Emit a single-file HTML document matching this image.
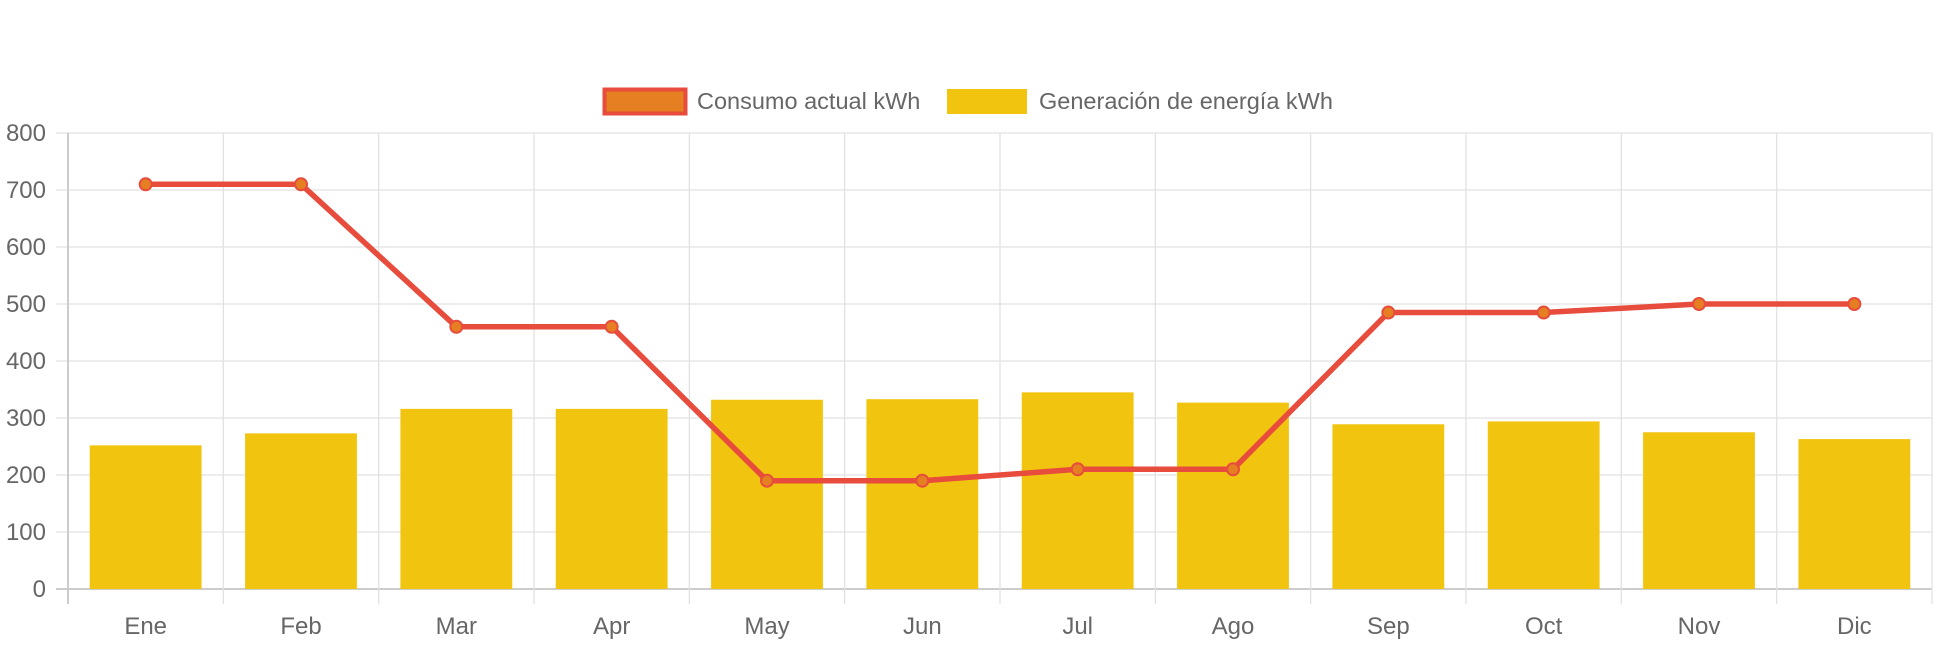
<!DOCTYPE html>
<html><head><meta charset="utf-8"><style>
html,body{margin:0;padding:0;background:#fff;}
svg{display:block;font-family:"Liberation Sans",sans-serif;}
</style></head><body>
<svg id="chart" width="1942" height="646" viewBox="0 0 1942 646" xmlns="http://www.w3.org/2000/svg">
<g id="legend">
  <g>
    <rect x="604.5" y="89.5" width="81" height="24" fill="#e67e22" stroke="#e74c3c" stroke-width="4"/>
    <text x="697" y="109" font-size="23.5" fill="#666">Consumo actual kWh</text>
  </g>
  <g>
    <rect x="947" y="89" width="80" height="25" fill="#f1c40f"/>
    <text x="1039" y="109" font-size="23.5" fill="#666">Generación de energía kWh</text>
  </g>
</g>
<g id="grid"></g>
<g id="bars"></g>
<g id="line"></g>
</svg>
<script>
const categories = ["Ene","Feb","Mar","Apr","May","Jun","Jul","Ago","Sep","Oct","Nov","Dic"];
const consumo = [710,710,460,460,190,190,210,210,485,485,500,500];
const generacion = [252,273,316,316,332,333,345,327,289,294,275,263];
const yTicks = [0,100,200,300,400,500,600,700,800];

const L=68, R=1932, T=133, B=589, YMAX=800;
const NS="http://www.w3.org/2000/svg";
const cw=(R-L)/categories.length;
const x=i=>L+cw*(i+0.5);
const y=v=>B-(v/YMAX)*(B-T);
function mk(tag,attrs,parent){const e=document.createElementNS(NS,tag);for(const k in attrs)e.setAttribute(k,attrs[k]);parent.appendChild(e);return e;}
const grid=document.getElementById('grid');
yTicks.forEach(t=>{
  const l=mk('line',{x1:L-12,x2:R,y1:y(t),y2:y(t),stroke:t===0?'#ccc':'#e2e2e2','stroke-width':t===0?2:1.3},grid);
  
  
  const tx=mk('text',{x:L-22,y:y(t)+8,'text-anchor':'end','font-size':24,fill:'#666'},grid);
  tx.textContent=t;
  
  
});
for(let i=0;i<=categories.length;i++){
  const gx=L+cw*i;
  const l=mk('line',{x1:gx,x2:gx,y1:T,y2:B+15,stroke:i===0?'#ccc':'#e2e2e2','stroke-width':i===0?2:1.3},grid);
  
  
}
categories.forEach((c,i)=>{
  const tx=mk('text',{x:x(i),y:634,'text-anchor':'middle','font-size':24,fill:'#666'},grid);
  tx.textContent=c;
  
  
});
const bars=document.getElementById('bars');
const bw=cw*0.72;
generacion.forEach((v,i)=>{
  const r=mk('rect',{x:x(i)-bw/2,y:y(v),width:bw,height:B-y(v),fill:'#f1c40f'},bars);
  
  
});
const lg=document.getElementById('line');
const p=mk('polyline',{points:consumo.map((v,i)=>x(i)+','+y(v)).join(' '),fill:'none',stroke:'#e74c3c','stroke-width':5.5,'stroke-linejoin':'round'},lg);


consumo.forEach((v,i)=>{
  const c=mk('circle',{cx:x(i),cy:y(v),r:6,fill:'#e67e22',stroke:'#e74c3c','stroke-width':2},lg);
  
  
});
</script>
</body></html>
